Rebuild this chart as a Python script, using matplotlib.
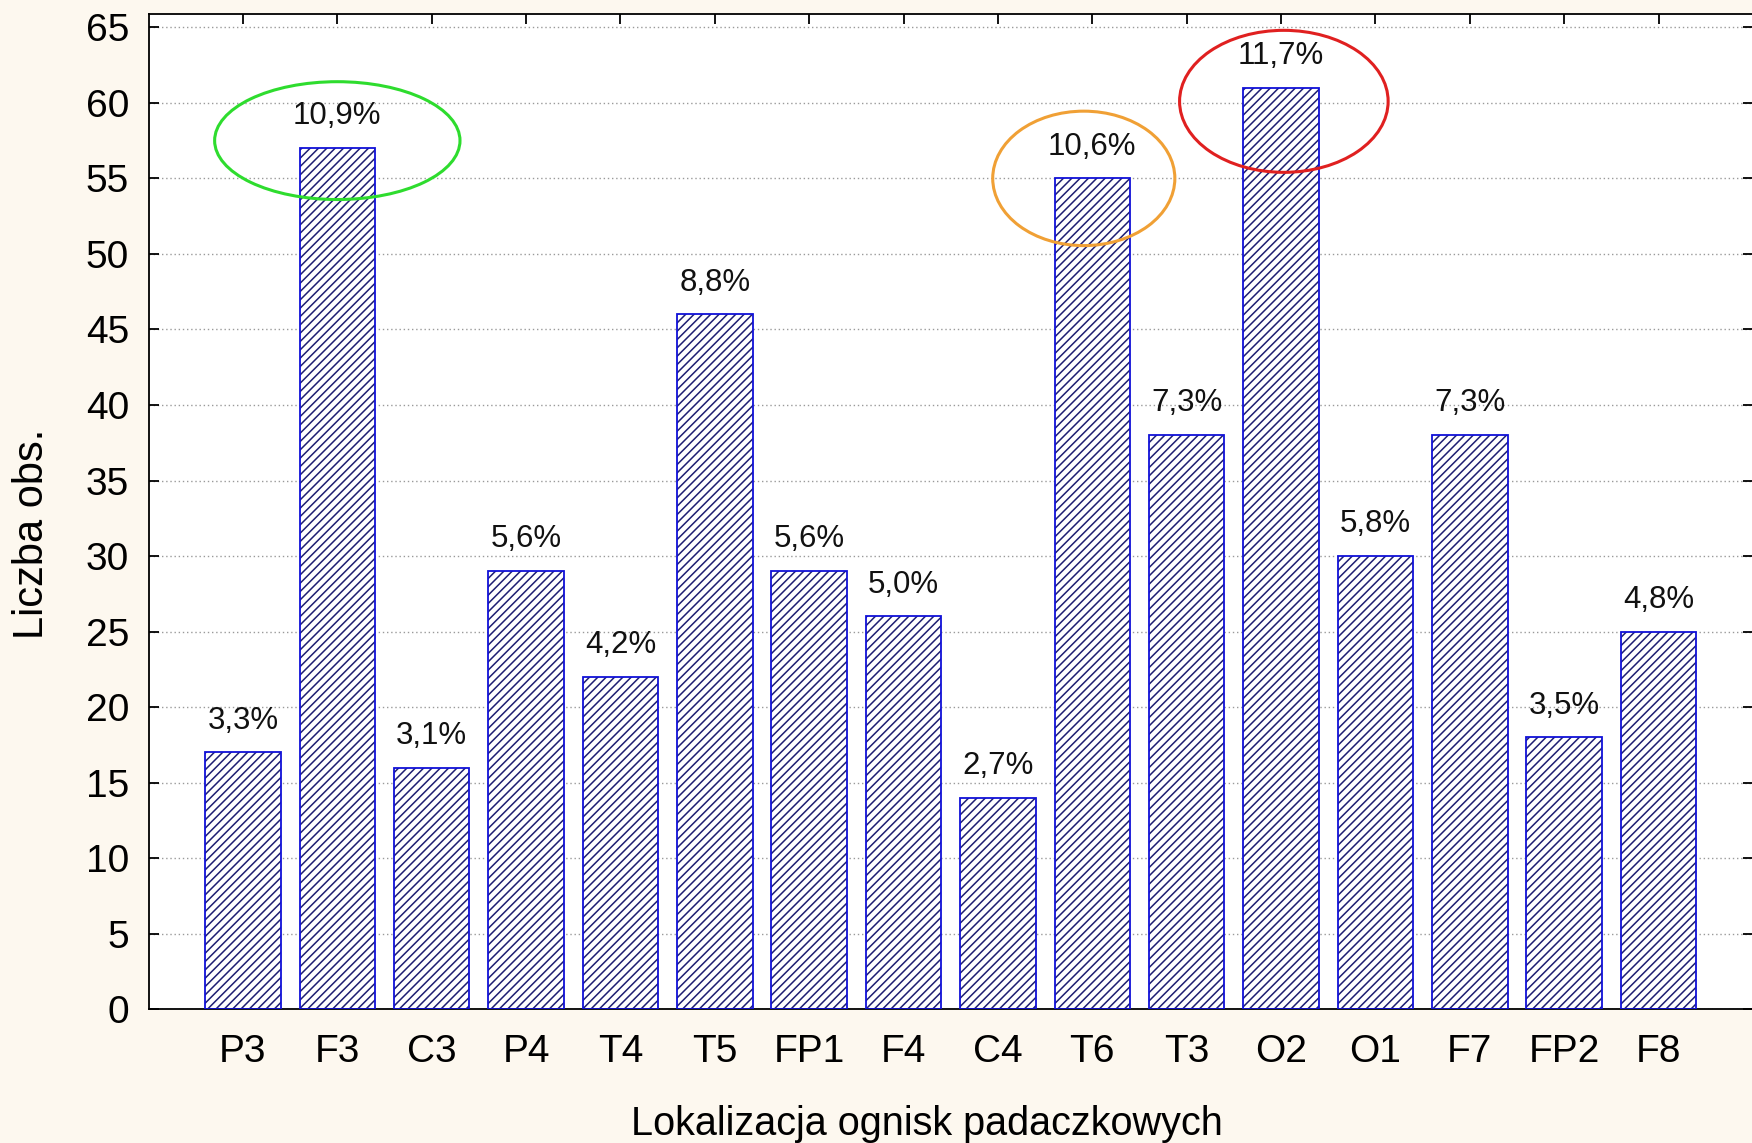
import matplotlib
matplotlib.use('Agg')
import matplotlib.pyplot as plt
from matplotlib.patches import Ellipse

# data
locations = ['P3', 'F3', 'C3', 'P4', 'T4', 'T5', 'FP1', 'F4', 'C4', 'T6', 'T3', 'O2', 'O1', 'F7', 'FP2', 'F8']
counts = [17, 57, 16, 29, 22, 46, 29, 26, 14, 55, 38, 61, 30, 38, 18, 25]
percents = ['3,3%', '10,9%', '3,1%', '5,6%', '4,2%', '8,8%', '5,6%', '5,0%',
            '2,7%', '10,6%', '7,3%', '11,7%', '5,8%', '7,3%', '3,5%', '4,8%']

# highlighted bars: (index, x-offset, y-centre, width, height, colour)
highlights = [
    (1, 0.0, 57.5, 2.6, 7.8, '#2edc2e'),
    (9, -0.09, 55.0, 1.93, 8.9, '#f0a035'),
    (11, 0.03, 60.1, 2.21, 9.4, '#e02020'),
]

plt.rcParams['font.family'] = ['Liberation Sans', 'DejaVu Sans']
plt.rcParams['hatch.linewidth'] = 1.1

fig = plt.figure(figsize=(17.52, 11.43), dpi=100, facecolor='#fdf8ef')
ax = fig.add_axes([0.0848, 0.117, 0.9157, 0.871])
ax.set_facecolor('white')

x = list(range(len(locations)))
# hatched fill, then blue outline
ax.bar(x, counts, width=0.8, color='white', edgecolor='#1e1e72', hatch='////', linewidth=0, zorder=2)
ax.bar(x, counts, width=0.8, fill=False, edgecolor='#1010d8', linewidth=1.3, zorder=3)

for xi, c, p in zip(x, counts, percents):
    ax.text(xi, c + 2.1, p, ha='center', va='center', fontsize=22.5, color='#111111', zorder=4)

for idx, dx, yc, w, h, col in highlights:
    ax.add_patch(Ellipse((idx + dx, yc), w, h, fill=False, edgecolor=col, linewidth=2.2, zorder=5))

ax.set_xlim(-1, 16)
ax.set_ylim(0, 65.9)
ax.set_yticks(range(0, 66, 5))
ax.set_xticks(x)
ax.set_xticklabels(locations)

ax.yaxis.grid(True, linestyle=(0, (1, 2)), color='#9a9a9a', linewidth=1.0, zorder=1)
ax.set_axisbelow(True)

ax.tick_params(axis='both', direction='in', length=7, width=1.3, labelsize=28, colors='black')
ax.tick_params(axis='x', top=True, pad=18)
ax.tick_params(axis='y', right=True, pad=14)

for s in ax.spines.values():
    s.set_linewidth(1.3)
    s.set_color('black')

ax.set_xlabel('Lokalizacja ognisk padaczkowych', fontsize=28.5)
ax.set_ylabel('Liczba obs.', fontsize=30)
ax.xaxis.set_label_coords(0.485, -0.096)
ax.yaxis.set_label_coords(-0.060, 0.478)

fig.savefig('out.png', dpi=100, facecolor=fig.get_facecolor())
